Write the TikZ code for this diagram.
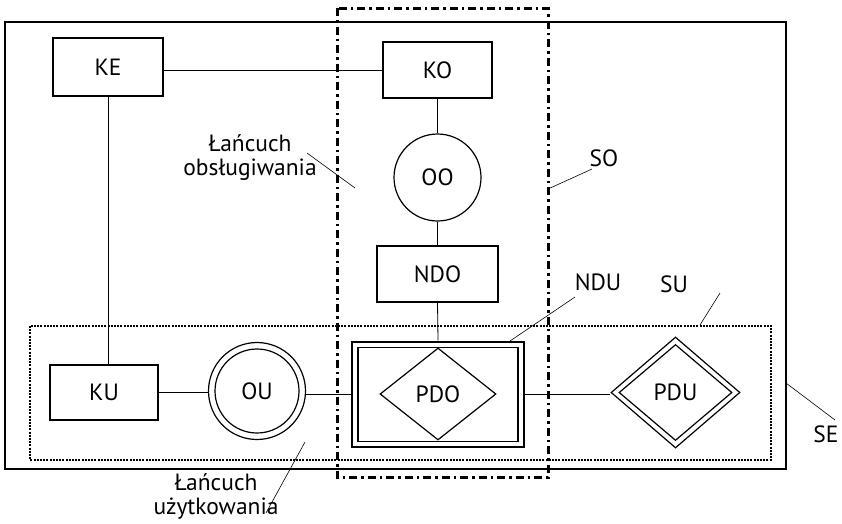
\documentclass[tikz,border=0pt]{standalone}
\usepackage{fontspec}
\setmainfont{PT Sans}
\usetikzlibrary{shapes.geometric}
\tikzset{
  box/.style={draw, line width=1.3pt, rectangle, inner sep=0pt},
  circ/.style={draw, line width=1.2pt, circle, inner sep=0pt},
  dia/.style={draw, line width=1.2pt, diamond, inner sep=0pt},
  conn/.style={line width=0.8pt},
  leader/.style={line width=0.6pt},
  lbl/.style={inner sep=0pt, align=center},
  seframe/.style={line width=1.4pt},
  soframe/.style={line width=3pt, dash pattern=on 8pt off 4pt on 2.5pt off 4pt},
  suframe/.style={line width=2.6pt, dash pattern=on 2pt off 1.2pt},
}
\begin{document}
\begin{tikzpicture}[x=1pt,y=-1pt, font=\fontsize{23.5}{24}\selectfont]
\useasboundingbox (0,0) rectangle (842,523);
% frames
\draw[seframe] (5,22) rectangle (786,469);
\draw[suframe] (30,326) rectangle (771,460);
\draw[soframe] (337,8) rectangle (548,477);
% nodes
\node[box, minimum width=110pt, minimum height=58pt] (KE) at (108,67) {KE};
\node[box, minimum width=109pt, minimum height=56pt] (KO) at (437.5,70) {KO};
\node[circ, minimum size=87pt] (OO) at (437.5,177.5) {OO};
\node[box, minimum width=121pt, minimum height=56pt] (NDO) at (437.5,274) {NDO};
\node[box, line width=2.7pt, minimum width=172pt, minimum height=105pt] (PDO) at (438,394.5) {};
\node[box, line width=1.5pt, minimum width=160pt, minimum height=94pt] (PDOin) at (438,394.5) {};
\node[dia, minimum width=116pt, minimum height=92pt] (PDOd) at (438,394) {PDO};
\node[box, minimum width=108pt, minimum height=55pt] (KU) at (104,392.5) {KU};
\node[circ, minimum size=97pt] (OU) at (257,391) {};
\node[circ, minimum size=84pt] (OUin) at (257,391) {OU};
\node[dia, minimum width=129pt, minimum height=111pt] (PDU) at (675.5,392.5) {};
\node[dia, minimum width=113pt, minimum height=96pt] (PDUin) at (675.5,392.5) {PDU};
% connectors
\draw[conn] (KO.west) -- (KO.west -| KE.east);
\draw[conn] (KE.south) -- (KE.south |- KU.north);
\draw[conn] (KO.south) -- (OO.north);
\draw[conn] (OO.south) -- (NDO.north);
\draw[conn] (NDO.south) -- (PDO.north);
\draw[conn] (KU.east) -- (KU.east -| OU.west);
\draw[conn] (OU.east |- PDO.west) -- (PDO.west);
\draw[conn] (PDO.east) -- (PDO.east -| PDU.west);
% labels
\node[lbl] (Lobs) at (250,158) {Łańcuch\\obsługiwania};
\node[lbl] (Luzy) at (216,496) {Łańcuch\\użytkowania};
\node[lbl] (SO) at (604,158) {SO};
\node[lbl] (NDU) at (598,282) {NDU};
\node[lbl] (SU) at (674,284) {SU};
\node[lbl] (SE) at (826,434) {SE};
% leader ends
\coordinate (obsA) at (307,153);
\coordinate (obsB) at (355,188);
\coordinate (uzyA) at (305,442);
\coordinate (uzyB) at (266,513);
\coordinate (soA) at (592,169);
\coordinate (soB) at (548,189);
\coordinate (nduA) at (575,297);
\coordinate (nduB) at (510,341);
\coordinate (suA) at (720,293);
\coordinate (suB) at (700,325);
\coordinate (seA) at (835,420);
\coordinate (seB) at (786,383);
\draw[leader] (obsA) -- (obsB);
\draw[leader] (uzyA) -- (uzyB);
\draw[leader] (soA) -- (soB);
\draw[leader] (nduA) -- (nduB);
\draw[leader] (suA) -- (suB);
\draw[leader] (seA) -- (seB);
\end{tikzpicture}
\end{document}
